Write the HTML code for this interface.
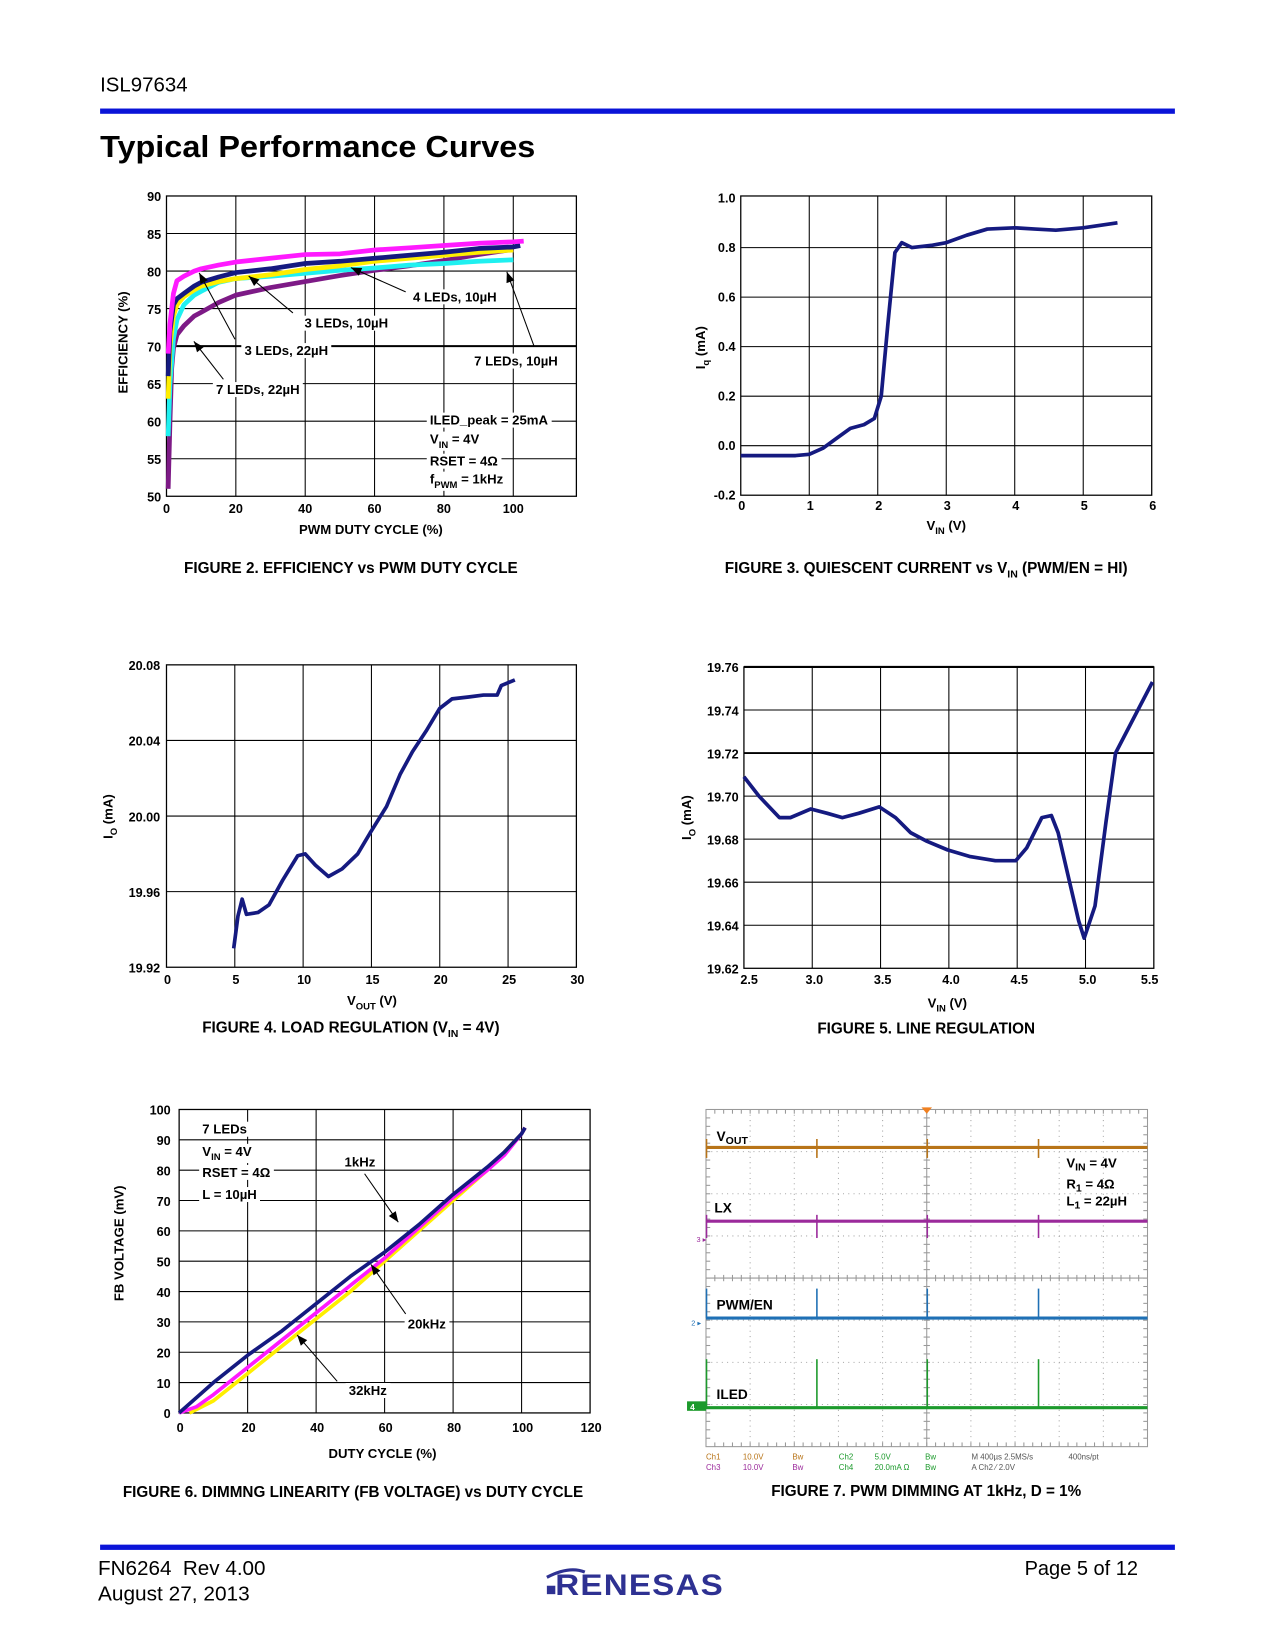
<!DOCTYPE html>
<html><head><meta charset="utf-8">
<style>
html,body{margin:0;padding:0;background:#fff;}
svg{display:block;}
text{font-family:"Liberation Sans",Arial,sans-serif;}
.b{font-weight:bold;}
.cap{font-family:"Liberation Sans Narrow","Liberation Sans",sans-serif;font-weight:bold;font-size:14.5px;}
</style></head>
<body>
<svg id="page" xmlns="http://www.w3.org/2000/svg" width="1275" height="1650" viewBox="0 0 1210 1566" preserveAspectRatio="none">
<text x="95" y="87" font-size="19" textLength="83" lengthAdjust="spacingAndGlyphs">ISL97634</text>
<rect x="95" y="103" width="1020" height="5" fill="#0a14d8"/>
<text x="95" y="149" font-size="29" textLength="413" lengthAdjust="spacingAndGlyphs" class="b" style="font-weight:900">Typical Performance Curves</text>
<rect x="95" y="1466" width="1020" height="5" fill="#0a14d8"/>
<text x="93" y="1495" font-size="19" xml:space="preserve" textLength="159" lengthAdjust="spacingAndGlyphs">FN6264  Rev 4.00</text>
<text x="93" y="1519" font-size="19" textLength="144" lengthAdjust="spacingAndGlyphs">August 27, 2013</text>
<text x="1080" y="1495" font-size="19" text-anchor="end">Page 5 of 12</text>
<g>
<rect x="519" y="1505" width="8" height="8" fill="#2e3192"/>
<path d="M519 1497 Q540 1486 555 1492" stroke="#2e3192" stroke-width="3" fill="none"/>
<text x="527" y="1514" font-size="28" font-weight="bold" fill="#2e3192" letter-spacing="1" textLength="160" lengthAdjust="spacingAndGlyphs">RENESAS</text>
</g>
<g id="charts"></g>
</svg>
<script>
// ---------- DATA ----------
// Figure 2
const f2X = {mag:[0.5,1,2,3,5,8,10,15,20,30,40,50,60,70,80,90,100,103],
  navy:[0.5,1,2,3,5,8,10,15,20,30,40,50,60,70,80,90,100,102],
  yel:[0.5,1,2,3,5,8,10,15,20,30,40,50,60,70,80,90,100],
  cyan:[0.5,1,2,3,5,8,10,15,20,30,40,50,60,70,80,90,100],
  pur:[0.5,1,1.5,2,3,5,8,10,15,20,30,40,50,60,70,80,90,100]};
const f2Magenta = [69,73,77,78.7,79.3,80,80.3,80.8,81.2,81.7,82.2,82.3,82.8,83.1,83.4,83.7,83.9,84];
const f2Navy = [66,72,75.5,76.3,77,78,78.5,79.2,79.8,80.3,81,81.3,81.7,82.1,82.5,83,83.2,83.4];
const f2Yellow = [63,70,74,75.5,76.6,77.5,78,78.6,79,79.5,80.2,80.7,81.3,81.7,82.1,82.5,82.8];
const f2Cyan = [58,65,71,73.5,75.5,76.8,77.3,78.5,79,79.3,79.7,80.1,80.4,80.8,81,81.3,81.5];
const f2Purple = [51,60,67,69.7,71.5,72.7,74,74.5,75.8,76.8,77.8,78.6,79.4,80.1,80.7,81.4,82.2,82.9];
const f2XTicks = [0,20,40,60,80,100];
const f2YTicks = [50,55,60,65,70,75,80,85,90];
// Figure 3
const f3Vin = [0,0.5,0.8,1,1.2,1.4,1.6,1.8,1.95,2.05,2.15,2.25,2.35,2.5,2.8,3,3.3,3.6,4,4.3,4.6,5,5.5];
const f3Iq = [-0.04,-0.04,-0.04,-0.035,-0.01,0.03,0.07,0.085,0.11,0.2,0.5,0.78,0.82,0.8,0.81,0.82,0.85,0.875,0.88,0.875,0.87,0.88,0.9];
const f3XTicks = [0,1,2,3,4,5,6];
const f3YTicks = [-0.2,0,0.2,0.4,0.6,0.8,1.0];
// Figure 4
const f4Vout = [4.92,5.23,5.54,5.85,6.7,7.5,8.5,9.6,10.15,10.9,11.85,12.85,14,14.9,16.1,17.1,18,19,20,20.9,22.1,23.2,24.2,24.5,25.5];
const f4Io = [19.930,19.947,19.956,19.948,19.949,19.953,19.966,19.979,19.980,19.974,19.968,19.972,19.980,19.991,20.005,20.022,20.034,20.045,20.057,20.062,20.063,20.064,20.064,20.069,20.072];
const f4XTicks = [0,5,10,15,20,25,30];
const f4YTicks = [19.92,19.96,20.00,20.04,20.08];
// Figure 5
const f5Vin = [2.5,2.61,2.76,2.84,2.99,3.11,3.22,3.34,3.49,3.61,3.72,3.84,3.99,4.15,4.34,4.49,4.57,4.68,4.75,4.80,4.88,4.95,4.99,5.07,5.15,5.22,5.49];
const f5Io = [19.709,19.700,19.690,19.690,19.694,19.692,19.690,19.692,19.695,19.690,19.683,19.679,19.675,19.672,19.670,19.670,19.676,19.690,19.691,19.683,19.661,19.642,19.634,19.649,19.688,19.720,19.753];
const f5XTicks = [2.5,3.0,3.5,4.0,4.5,5.0,5.5];
const f5YTicks = [19.62,19.64,19.66,19.68,19.70,19.72,19.74,19.76];
// Figure 6
const f6Duty1k = [0,2,5,10,20,30,40,50,60,70,80,90,95,100,101];
const f6Fb1k = [0,2,5,10,19,27,36,45,53,62,72,81,86,92,94];
const f6Duty20k = [0,5,10,20,30,40,50,60,70,80,90,95,100,101];
const f6Fb20k = [0,2,6,15,24,33,42,51,61,71,80,85,92,94];
const f6Duty32k = [3,10,20,30,40,50,60,70,80,90,100,101];
const f6Fb32k = [0,4,13,22,31,40,50,60,70,80,92,94];
const f6XTicks = [0,20,40,60,80,100,120];
const f6YTicks = [0,10,20,30,40,50,60,70,80,90,100];
// Figure 7 (scope): pulse times in divisions (0..10)
const f7Pulses = [0,2.5,5,7.52];

// ---------- helpers ----------
const NS='http://www.w3.org/2000/svg';
const root=document.getElementById('charts');
function mk(tag,attrs,name,parent){
  const el=document.createElementNS(NS,tag);
  for(const k in attrs) el.setAttribute(k,attrs[k]);
  
  
  (parent||root).appendChild(el);
  return el;
}
function txt(x,y,s,size,name,extra,parent){
  const a=Object.assign({x:x,y:y,'font-size':size,'font-weight':'bold'},extra||{});
  const t=mk('text',a,name,parent); t.innerHTML=s; return t;
}
function scale(d0,d1,p0,p1){return v=>p0+(v-d0)/(d1-d0)*(p1-p0);}
function frame(X0,Y0,X1,Y1,name){
  const g=mk('g',{},name);
  mk('rect',{x:X0,y:Y0,width:X1-X0,height:Y1-Y0,fill:'#fff',stroke:'#000','stroke-width':1.2},'plot-frame',g);
  return g;
}
function series(g,xs,ys,sx,sy,color,w,name){
  let d='';
  for(let i=0;i<xs.length;i++) d+=(i?'L':'M')+sx(xs[i]).toFixed(1)+' '+sy(ys[i]).toFixed(1);
  mk('path',{d:d,fill:'none',stroke:color,'stroke-width':w,'stroke-linejoin':'round','stroke-linecap':'butt'},name,g);
}
function arrow(g,x1,y1,x2,y2,name){
  mk('line',{x1:x1,y1:y1,x2:x2,y2:y2,stroke:'#000','stroke-width':1},name,g);
  const a=Math.atan2(y2-y1,x2-x1),L=10,W=4;
  const bx=x2-L*Math.cos(a),by=y2-L*Math.sin(a);
  const px=-Math.sin(a)*W,py=Math.cos(a)*W;
  mk('path',{d:`M${x2} ${y2}L${bx+px} ${by+py}L${bx-px} ${by-py}Z`,fill:'#000'},name+'-head',g);
}
function label(g,x,y,s,name,size){
  const t=txt(x,y,s,size||12.5,name,{},g);
  const bb=t.getBBox();
  const r=mk('rect',{x:bb.x-3,y:bb.y,width:bb.width+6,height:bb.height,fill:'#fff'},name+'-bg',g);
  g.insertBefore(r,t);
}
function cap(x,y,s,name){ const t=txt(x,y,s,14.5,name,{'text-anchor':'middle','class':'cap'}); return t;}

// ---------- Figure 2 ----------
(function(){
  const X0=158,X1=547,Y0=186,Y1=471;
  const sx=scale(0,118.2,X0,X1), sy=scale(50,90,Y1,Y0);
  const g=frame(X0,Y0,X1,Y1,'figure2-efficiency-chart');
  f2XTicks.forEach(v=>{ if(v>0) mk('line',{x1:sx(v),y1:Y0,x2:sx(v),y2:Y1,stroke:'#000','stroke-width':1},'x-gridline',g);
    txt(sx(v),487,v,12,'x-tick-label',{'text-anchor':'middle'},g);});
  f2YTicks.forEach(v=>{ if(v>50&&v<90) mk('line',{x1:X0,y1:sy(v),x2:X1,y2:sy(v),stroke:'#000','stroke-width':v==70?2:1},'y-gridline',g);
    txt(153,sy(v)+5,v,12,'y-tick-label',{'text-anchor':'end'},g);});
  series(g,f2X.pur,f2Purple,sx,sy,'#7d1a86',4.5,'series-7leds-22uh');
  series(g,f2X.cyan,f2Cyan,sx,sy,'#1ff0f0',4.5,'series-7leds-10uh');
  series(g,f2X.yel,f2Yellow,sx,sy,'#ffee00',4.5,'series-3leds-10uh');
  series(g,f2X.navy,f2Navy,sx,sy,'#151a80',4.5,'series-4leds-10uh');
  series(g,f2X.mag,f2Magenta,sx,sy,'#ff1aff',4.5,'series-3leds-22uh');
  arrow(g,385,277,333,254,'arrow-4leds-10uh'); label(g,392,286,'4 LEDs, 10µH','label-4leds-10uh');
  arrow(g,278,297,236,262,'arrow-3leds-10uh'); label(g,289,311,'3 LEDs, 10µH','label-3leds-10uh');
  arrow(g,223,322,189,259,'arrow-3leds-22uh'); label(g,232,337,'3 LEDs, 22µH','label-3leds-22uh');
  arrow(g,212,360,184,324,'arrow-7leds-22uh'); label(g,205,374,'7 LEDs, 22µH','label-7leds-22uh');
  arrow(g,507,329,481,258,'arrow-7leds-10uh'); label(g,450,347,'7 LEDs, 10µH','label-7leds-10uh');
  const cg=mk('g',{},'conditions-note',g);
  label(cg,408,403,'ILED_peak = 25mA','note-iled');
  label(cg,408,421,'V<tspan font-size="9" dy="4">IN</tspan><tspan dy="-4"> = 4V</tspan>','note-vin');
  label(cg,408,442,'RSET = 4Ω','note-rset');
  label(cg,408,459,'f<tspan font-size="9" dy="4">PWM</tspan><tspan dy="-4"> = 1kHz</tspan>','note-fpwm');
  txt(352,507,'PWM DUTY CYCLE (%)',12.5,'x-axis-title',{'text-anchor':'middle'},g);
  txt(0,0,'EFFICIENCY (%)',12.5,'y-axis-title',{'text-anchor':'middle',transform:'translate(121,325) rotate(-90)'},g);
  cap(333,544,'FIGURE 2.  EFFICIENCY vs PWM DUTY CYCLE','figure2-caption');
})();

// ---------- Figure 3 ----------
(function(){
  const X0=703,X1=1093,Y0=186,Y1=470;
  const sx=scale(0,6,X0,X1), sy=scale(-0.2,1.0,Y1,188);
  const g=frame(X0,Y0,X1,Y1,'figure3-quiescent-chart');
  f3XTicks.forEach(v=>{ if(v>0&&v<6) mk('line',{x1:sx(v),y1:Y0,x2:sx(v),y2:Y1,stroke:'#000','stroke-width':1},'x-gridline',g);
    txt(sx(v)+1,484,v,12,'x-tick-label',{'text-anchor':'middle'},g);});
  f3YTicks.forEach(v=>{ if(v>-0.2&&v<1) mk('line',{x1:X0,y1:sy(v),x2:X1,y2:sy(v),stroke:'#000','stroke-width':1},'y-gridline',g);
    txt(698,sy(v)+4,v.toFixed(1),12,'y-tick-label',{'text-anchor':'end'},g);});
  series(g,f3Vin,f3Iq,sx,sy,'#151a80',3.5,'series-iq');
  txt(898,503,'V<tspan font-size="9" dy="4">IN</tspan><tspan dy="-4"> (V)</tspan>',12.5,'x-axis-title',{'text-anchor':'middle'},g);
  txt(0,0,'I<tspan font-size="9" dy="4">q</tspan><tspan dy="-4">  (mA)</tspan>',12.5,'y-axis-title',{'text-anchor':'middle',transform:'translate(669,330) rotate(-90)'},g);
  cap(879,544,'FIGURE 3.  QUIESCENT CURRENT vs V<tspan font-size="10" dy="4">IN</tspan><tspan dy="-4"> (PWM/EN = HI)</tspan>','figure3-caption');
})();

// ---------- Figure 4 ----------
(function(){
  const X0=158,X1=547,Y0=631,Y1=918;
  const sx=scale(0,30,X0,X1), sy=scale(19.92,20.08,Y1,Y0);
  const g=frame(X0,Y0,X1,Y1,'figure4-load-regulation-chart');
  f4XTicks.forEach(v=>{ if(v>0&&v<30) mk('line',{x1:sx(v),y1:Y0,x2:sx(v),y2:Y1,stroke:'#000','stroke-width':1},'x-gridline',g);
    txt(sx(v)+1,934,v,12,'x-tick-label',{'text-anchor':'middle'},g);});
  f4YTicks.forEach(v=>{ if(v>19.92&&v<20.08) mk('line',{x1:X0,y1:sy(v),x2:X1,y2:sy(v),stroke:'#000','stroke-width':1},'y-gridline',g);
    txt(152,sy(v)+5,v.toFixed(2),12,'y-tick-label',{'text-anchor':'end'},g);});
  series(g,f4Vout,f4Io,sx,sy,'#151a80',3.5,'series-io');
  txt(353,954,'V<tspan font-size="9" dy="4">OUT</tspan><tspan dy="-4"> (V)</tspan>',12.5,'x-axis-title',{'text-anchor':'middle'},g);
  txt(0,0,'I<tspan font-size="9" dy="4">O</tspan><tspan dy="-4"> (mA)</tspan>',12.5,'y-axis-title',{'text-anchor':'middle',transform:'translate(107,775) rotate(-90)'},g);
  cap(333,980,'FIGURE 4.  LOAD REGULATION (V<tspan font-size="10" dy="4">IN</tspan><tspan dy="-4"> = 4V)</tspan>','figure4-caption');
})();

// ---------- Figure 5 ----------
(function(){
  const X0=706,X1=1095,Y0=633,Y1=919;
  const sx=scale(2.5,5.5,X0,X1), sy=scale(19.62,19.76,Y1,Y0);
  const g=frame(X0,Y0,X1,Y1,'figure5-line-regulation-chart');
  f5XTicks.forEach((v,i)=>{ if(i>0&&i<6) mk('line',{x1:sx(v),y1:Y0,x2:sx(v),y2:Y1,stroke:'#000','stroke-width':1},'x-gridline',g);
    txt(sx(v)+(i==0?5:(i==6?-4:2)),934,v.toFixed(1),12,'x-tick-label',{'text-anchor':'middle'},g);});
  f5YTicks.forEach((v,i)=>{ if(i>0&&i<7) mk('line',{x1:X0,y1:sy(v),x2:X1,y2:sy(v),stroke:'#000','stroke-width':v>19.715&&v<19.725?1.8:1},'y-gridline',g);
    txt(701,sy(v)+5,v.toFixed(2),12,'y-tick-label',{'text-anchor':'end'},g);});
  mk('line',{x1:X0,y1:Y0,x2:X1,y2:Y0,stroke:'#000','stroke-width':2},'top-border',g);
  series(g,f5Vin,f5Io,sx,sy,'#151a80',3.5,'series-io');
  txt(899,956,'V<tspan font-size="9" dy="4">IN</tspan><tspan dy="-4"> (V)</tspan>',12.5,'x-axis-title',{'text-anchor':'middle'},g);
  txt(0,0,'I<tspan font-size="9" dy="4">O</tspan><tspan dy="-4"> (mA)</tspan>',12.5,'y-axis-title',{'text-anchor':'middle',transform:'translate(656,776) rotate(-90)'},g);
  cap(879,981,'FIGURE 5.  LINE REGULATION','figure5-caption');
})();

// ---------- Figure 6 ----------
(function(){
  const X0=170,X1=560,Y0=1053,Y1=1341;
  const sx=scale(0,120,X0,X1), sy=scale(0,100,Y1,Y0);
  const g=frame(X0,Y0,X1,Y1,'figure6-dimming-linearity-chart');
  f6XTicks.forEach(v=>{ if(v>0&&v<120) mk('line',{x1:sx(v),y1:Y0,x2:sx(v),y2:Y1,stroke:'#000','stroke-width':1},'x-gridline',g);
    txt(sx(v)+1,1359,v,12,'x-tick-label',{'text-anchor':'middle'},g);});
  f6YTicks.forEach(v=>{ if(v>0&&v<100) mk('line',{x1:X0,y1:sy(v),x2:X1,y2:sy(v),stroke:'#000','stroke-width':1},'y-gridline',g);
    txt(162,sy(v)+5,v,12,'y-tick-label',{'text-anchor':'end'},g);});
  series(g,f6Duty32k,f6Fb32k,sx,sy,'#ffee00',3.5,'series-32khz');
  series(g,f6Duty20k,f6Fb20k,sx,sy,'#ff1aff',3.5,'series-20khz');
  series(g,f6Duty1k,f6Fb1k,sx,sy,'#151a80',3.5,'series-1khz');
  const lg=mk('g',{},'conditions-note',g);
  label(lg,192,1076,'7 LEDs','note-leds');
  label(lg,192,1097,'V<tspan font-size="9" dy="4">IN</tspan><tspan dy="-4"> = 4V</tspan>','note-vin');
  label(lg,192,1117,'RSET = 4Ω','note-rset');
  label(lg,192,1138,'L = 10µH','note-l');
  arrow(g,346,1114,378,1160,'arrow-1khz'); label(g,327,1107,'1kHz','label-1khz');
  arrow(g,385,1247,352,1200,'arrow-20khz'); label(g,387,1261,'20kHz','label-20khz');
  arrow(g,320,1311,282,1267,'arrow-32khz'); label(g,331,1324,'32kHz','label-32khz');
  txt(363,1384,'DUTY CYCLE (%)',12.5,'x-axis-title',{'text-anchor':'middle'},g);
  txt(0,0,'FB VOLTAGE (mV)',12.5,'y-axis-title',{'text-anchor':'middle',transform:'translate(117,1180) rotate(-90)'},g);
  cap(335,1421,'FIGURE 6.  DIMMNG LINEARITY (FB VOLTAGE) vs DUTY CYCLE','figure6-caption');
})();

// ---------- Figure 7 (scope) ----------
(function(){
  const X0=670,X1=1089,Y0=1053,Y1=1373;
  const sx=scale(0,10,X0,X1), sy=scale(0,8,Y0,Y1);
  const g=mk('g',{},'figure7-scope-capture');
  mk('rect',{x:X0,y:Y0,width:X1-X0,height:Y1-Y0,fill:'#fff',stroke:'#999','stroke-width':1},'scope-frame',g);
  for(let i=1;i<10;i++){ if(i!=5) mk('line',{x1:sx(i),y1:Y0,x2:sx(i),y2:Y1,stroke:'#aaa','stroke-width':1,'stroke-dasharray':'1,4'},'scope-grid-v',g);}
  for(let j=1;j<8;j++){ if(j!=4) mk('line',{x1:X0,y1:sy(j),x2:X1,y2:sy(j),stroke:'#aaa','stroke-width':1,'stroke-dasharray':'1,4'},'scope-grid-h',g);}
  mk('line',{x1:sx(5),y1:Y0,x2:sx(5),y2:Y1,stroke:'#999','stroke-width':1},'scope-center-v',g);
  mk('line',{x1:X0,y1:sy(4),x2:X1,y2:sy(4),stroke:'#999','stroke-width':1},'scope-center-h',g);
  for(let k=1;k<50;k++){ const x=sx(k/5);
    mk('line',{x1:x,y1:sy(4)-3,x2:x,y2:sy(4)+3,stroke:'#999','stroke-width':1},'scope-tick',g);
    mk('line',{x1:x,y1:Y0,x2:x,y2:Y0+4,stroke:'#999','stroke-width':1},'scope-tick',g);
    mk('line',{x1:x,y1:Y1-4,x2:x,y2:Y1,stroke:'#999','stroke-width':1},'scope-tick',g);}
  for(let k=1;k<40;k++){ const y=sy(k/5);
    mk('line',{x1:sx(5)-3,y1:y,x2:sx(5)+3,y2:y,stroke:'#999','stroke-width':1},'scope-tick',g);
    mk('line',{x1:X0,y1:y,x2:X0+4,y2:y,stroke:'#999','stroke-width':1},'scope-tick',g);
    mk('line',{x1:X1-4,y1:y,x2:X1,y2:y,stroke:'#999','stroke-width':1},'scope-tick',g);}
  mk('path',{d:`M${sx(5)-5} ${Y0-2}L${sx(5)+5} ${Y0-2}L${sx(5)} ${Y0+4}Z`,fill:'#f08020'},'trigger-marker',g);
  const tr=[
    {y:1089,c:'#b87418',up:-8,dn:10,name:'vout-trace'},
    {y:1159,c:'#9b2a9b',up:-6,dn:16,name:'lx-trace'},
    {y:1251,c:'#1f70b5',up:-28,dn:0,name:'pwm-en-trace'},
    {y:1336,c:'#1c9a2c',up:-46,dn:0,name:'iled-trace'}];
  tr.forEach(t=>{
    mk('line',{x1:X0,y1:t.y,x2:X1,y2:t.y,stroke:t.c,'stroke-width':3},t.name,g);
    f7Pulses.forEach(p=>{ mk('line',{x1:sx(p)+0.5,y1:t.y+t.up,x2:sx(p)+0.5,y2:t.y+t.dn,stroke:t.c,'stroke-width':1.5},t.name+'-pulse',g);});
  });
  txt(680,1083,'V<tspan font-size="10" dy="3">OUT</tspan>',13,'vout-label',{},g);
  txt(678,1151,'LX',13,'lx-label',{},g);
  txt(680,1243,'PWM/EN',13,'pwm-en-label',{},g);
  txt(680,1328,'ILED',13,'iled-label',{},g);
  txt(1012,1108,'V<tspan font-size="10" dy="3">IN</tspan><tspan dy="-3"> = 4V</tspan>',12.5,'note-vin',{},g);
  txt(1012,1128,'R<tspan font-size="10" dy="3">1</tspan><tspan dy="-3"> = 4Ω</tspan>',12.5,'note-r1',{},g);
  txt(1012,1144,'L<tspan font-size="10" dy="3">1</tspan><tspan dy="-3"> = 22µH</tspan>',12.5,'note-l1',{},g);
  txt(661,1179,'3 ▸',7,'ch3-marker',{fill:'#9b2a9b','font-weight':'normal'},g);
  txt(656,1258,'2 ▸',7,'ch2-marker',{fill:'#1f70b5','font-weight':'normal'},g);
  mk('rect',{x:652,y:1330,width:18,height:9,fill:'#1c9a2c'},'ch4-marker',g);
  txt(655,1338,'4',8,'ch4-marker-text',{fill:'#fff'},g);
  const st={'font-weight':'normal'};
  const r1=[['Ch1',670,'#b87418'],['10.0V',705,'#b87418'],['Bw',752,'#b87418'],['Ch2',796,'#1c9a2c'],['5.0V',830,'#1c9a2c'],['Bw',878,'#1c9a2c'],['M 400µs 2.5MS/s',922,'#555'],['400ns/pt',1014,'#555']];
  const r2=[['Ch3',670,'#9b2a9b'],['10.0V',705,'#9b2a9b'],['Bw',752,'#9b2a9b'],['Ch4',796,'#1c9a2c'],['20.0mA Ω',830,'#1c9a2c'],['Bw',878,'#1c9a2c'],['A  Ch2  ⁄  2.0V',922,'#555']];
  r1.forEach(r=>txt(r[1],1385,r[0],7.5,'scope-status-text',Object.assign({fill:r[2]},st),g));
  r2.forEach(r=>txt(r[1],1395,r[0],7.5,'scope-status-text',Object.assign({fill:r[2]},st),g));
  cap(879,1420,'FIGURE 7.  PWM DIMMING AT 1kHz, D = 1%','figure7-caption');
})();
</script>
</body></html>
